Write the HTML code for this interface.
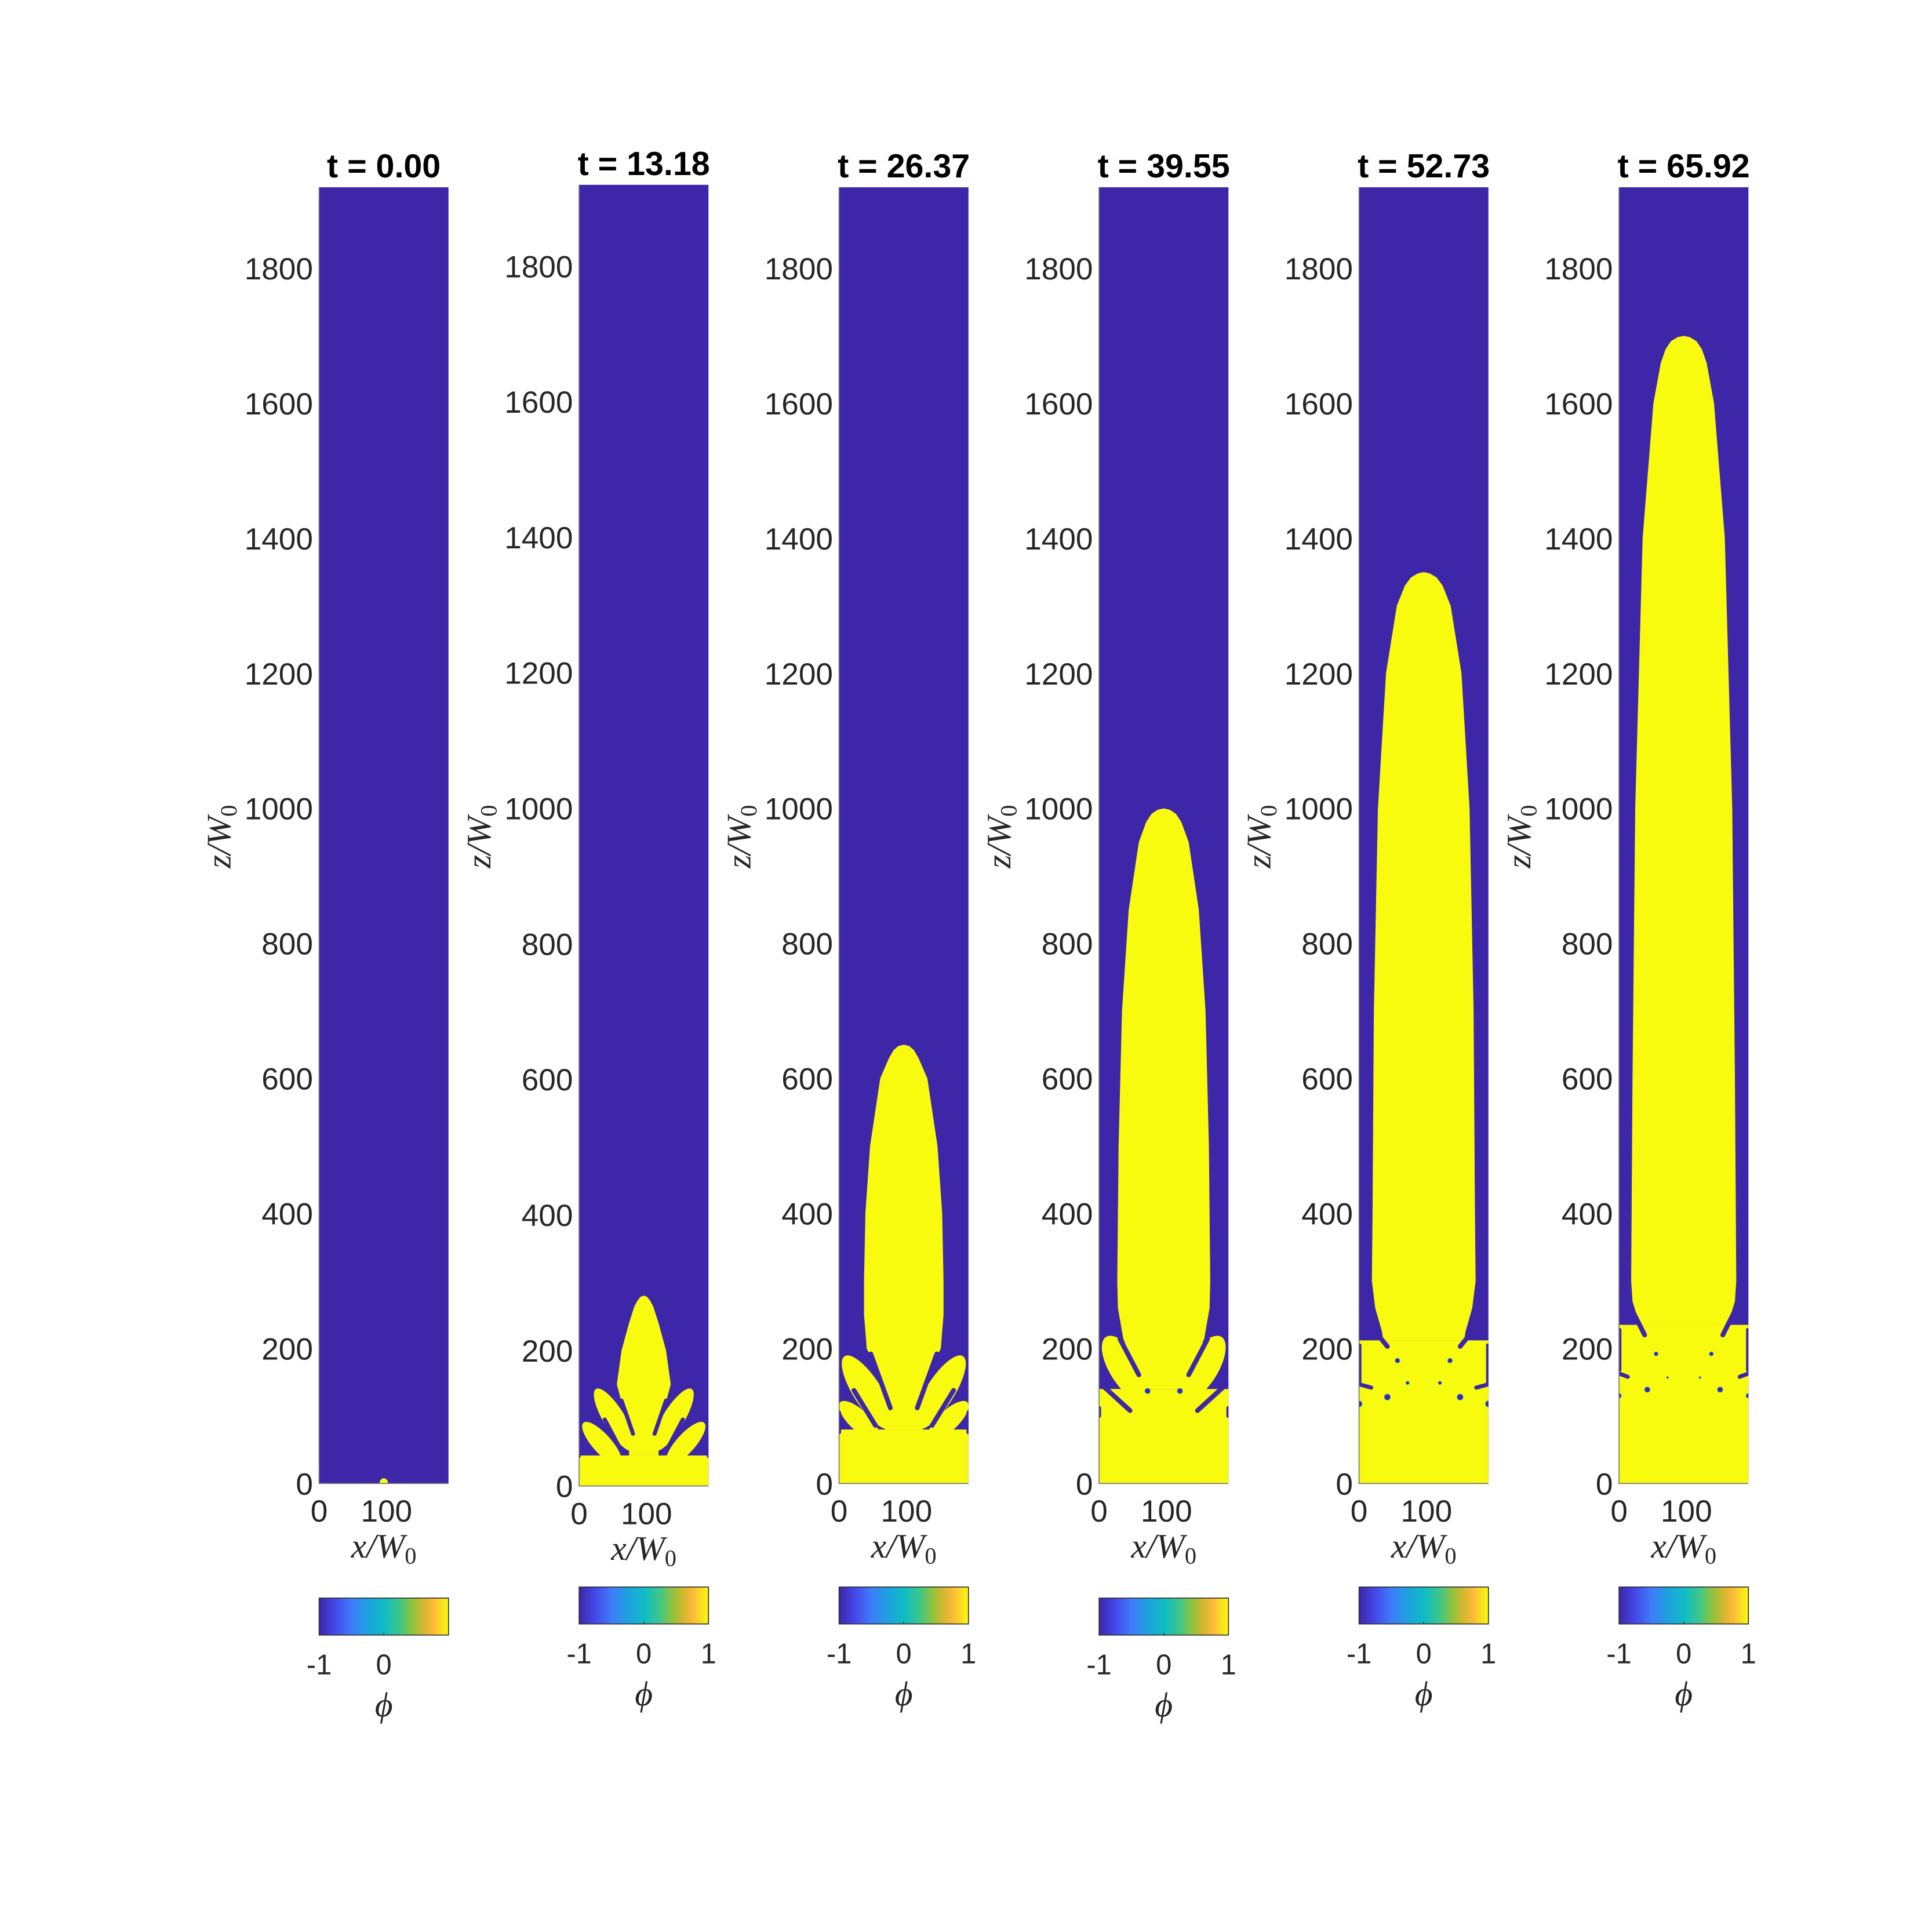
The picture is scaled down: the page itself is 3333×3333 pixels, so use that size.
<!DOCTYPE html>
<html><head><meta charset="utf-8"><style>
html,body{margin:0;padding:0;background:#fff;}
svg{display:block;}
</style></head><body>
<svg id="fig" xmlns="http://www.w3.org/2000/svg" width="3333" height="3333" viewBox="0 0 1568 1568">
<defs>
<linearGradient id="parula" x1="0" y1="0" x2="1" y2="0">
<stop offset="0" stop-color="#3e26a8"/><stop offset="0.12" stop-color="#4446e9"/>
<stop offset="0.25" stop-color="#3e7cfb"/><stop offset="0.37" stop-color="#1f9fe0"/>
<stop offset="0.5" stop-color="#0ebcc6"/><stop offset="0.62" stop-color="#3cc68b"/>
<stop offset="0.72" stop-color="#8ec33f"/><stop offset="0.8" stop-color="#cfb82e"/>
<stop offset="0.88" stop-color="#fcb93a"/><stop offset="1" stop-color="#f9fb0e"/>
</linearGradient>
</defs>
<g id="root"></g>
</svg>
<script>
const times = ["0.00","13.18","26.37","39.55","52.73","65.92"];
const yTicks = [0,200,400,600,800,1000,1200,1400,1600,1800];
const xTicks = [0,100];
const cbTicks = [-1,0,1];
const baseHeights = [0,45,80,140,212,235];
const profZ = [
 [8,7,5,3,0],
 [281,279,274,265,240,200,150,120,90,45],
 [650,648,642,630,600,500,400,300,250,200,170,140,111,80],
 [1000,998,992,980,950,850,700,500,300,260,214,190,163,140],
 [1350,1348,1342,1330,1300,1200,1000,700,400,300,260,225,212],
 [1700,1698,1692,1680,1660,1600,1400,1000,600,300,270,250,235]
];
const profHW = [
 [0,3,5,6,6],
 [0,5,9,14,22,33,40,32,20,22],
 [0,8,15,22,35,50,57,59,59,55,40,28,22,28],
 [0,9,18,26,37,52,62,67,69,68,60,48,44,44],
 [0,9,19,28,40,56,68,74,76,77,72,62,60],
 [0,9,19,27,34,45,61,72,76,78,76,70,66]
];
// lobes: rootX, rootZ, tipX, tipZ, width (left side, mirrored)
const lobes = [
 [],
 [[76,60,30,135,32],[56,38,12,87,28]],
 [[70,92,15,178,42],[52,72,8,114,30]],
 [[62,135,18,205,48],[48,95,8,131,30]],
 [],
 []
];
// purple channels: x1,z1,x2,z2,width
const notches = [
 [],
 [[80,77,63,126,6],[61,55,38,98,6],[0,44,0,75,5]],
 [[76,112,47,192,7],[54,86,22,138,7],[0,76,0,105,6]],
 [[59,161,31,214,7],[46,108,2,148,7],[0,100,0,112,6]],
 [[20,230,42,203,7],[1,150,1,205,5],[0,147,18,142,6]],
 [[22,252,38,220,7],[1,168,1,228,5],[0,163,13,158,6]]
];
// purple droplets: x, z, r
const dots = [
 [],[],[],
 [[72,137,4]],
 [[57,182,3.5],[72,149,2.5],[42,128,4.5],[0,118,4.5]],
 [[55,192,3],[72,157,1.5],[42,139,4],[0,130,3.5]]
];
const panelLeft=[259,470,681,892,1103,1314];
const panelTop=[152,150,152,152,152,152];
const panelBottom=[1204,1206,1204,1204,1204,1204];
const cbTop=[1297,1288,1288,1297,1288,1288];
const PW=105, XMAX=192, ZMAX=1920, PURPLE="#3e26a8", YELLOW="#f9fb0e";
const NS="http://www.w3.org/2000/svg";
const root=document.getElementById('root');
function mk(tag,attrs,parent){const e=document.createElementNS(NS,tag);for(const k in attrs)e.setAttribute(k,attrs[k]);(parent||root).appendChild(e);return e;}
function txt(s,attrs,parent){const e=mk('text',attrs,parent);e.textContent=s;return e;}

for(let p=0;p<6;p++){
  const L=panelLeft[p],T=panelTop[p],B=panelBottom[p];
  const sx=x=>L+x/XMAX*PW;
  const sz=z=>B-z/ZMAX*(B-T);
  const kz=(B-T)/ZMAX, kx=PW/XMAX;
  const g=mk('g',{});
  
  
  const cp=mk('clipPath',{id:'clip'+p},g);
  mk('rect',{x:L,y:T,width:PW,height:B-T},cp);
  const bg=mk('rect',{x:L,y:T,width:PW,height:B-T,fill:PURPLE},g);
  
  
  const field=mk('g',{'clip-path':'url(#clip'+p+')'},g);
  
  
  if(baseHeights[p]>0){
    const br=mk('rect',{x:L,y:sz(baseHeights[p]),width:PW,height:baseHeights[p]*kz+1,fill:YELLOW},field);
    
    
  }
  const zs=profZ[p],hs=profHW[p];
  let pts=[];
  for(let i=zs.length-1;i>=0;i--)pts.push(sx(96-hs[i])+','+sz(zs[i]));
  for(let i=0;i<zs.length;i++)pts.push(sx(96+hs[i])+','+sz(zs[i]));
  const tr=mk('polygon',{points:pts.join(' '),fill:YELLOW,'stroke-linejoin':'round'},field);
  
  
  for(const lb of lobes[p]){
    for(const side of [1,-1]){
      const rx=side>0?lb[0]:XMAX-lb[0], tx=side>0?lb[2]:XMAX-lb[2];
      const x1=sx(rx),y1=sz(lb[1]),x2=sx(tx),y2=sz(lb[3]);
      const cx=(x1+x2)/2,cy=(y1+y2)/2,len=Math.hypot(x2-x1,y2-y1);
      const ang=Math.atan2(y2-y1,x2-x1)*180/Math.PI;
      const el=mk('ellipse',{cx:cx,cy:cy,rx:len/2+lb[4]*kx*0.3,ry:lb[4]*kx/2,transform:`rotate(${ang} ${cx} ${cy})`,fill:YELLOW},field);
      
      
    }
  }
  for(const n of notches[p]){
    for(const side of [1,-1]){
      const a=side>0?n[0]:XMAX-n[0], b=side>0?n[2]:XMAX-n[2];
      const ln=mk('line',{x1:sx(a),y1:sz(n[1]),x2:sx(b),y2:sz(n[3]),stroke:PURPLE,'stroke-width':n[4]*kx,'stroke-linecap':'round'},field);
      
      
    }
  }
  for(const d of dots[p]){
    for(const side of [1,-1]){
      const a=side>0?d[0]:XMAX-d[0];
      const c=mk('circle',{cx:sx(a),cy:sz(d[1]),r:d[2]*kx,fill:PURPLE,stroke:'#2fa0e0','stroke-width':0.4},field);
      
      
    }
  }
  const ax=mk('path',{d:`M${L},${T} L${L},${B} L${L+PW},${B}`,fill:'none',stroke:'#777','stroke-width':0.8},g);
  
  
  const ti=txt('t = '+times[p],{x:L+PW/2,y:T-8,'text-anchor':'middle','font-family':'Liberation Sans, sans-serif','font-weight':'bold','font-size':27,fill:'#000'},g);
  
  
  for(const t of yTicks){
    const e=txt(String(t),{x:L-5,y:sz(t)+9,'text-anchor':'end','font-family':'Liberation Sans, sans-serif','font-size':25,fill:'#262626'},g);
    
    
  }
  for(const t of xTicks){
    const e=txt(String(t),{x:sx(t),y:B+31,'text-anchor':'middle','font-family':'Liberation Sans, sans-serif','font-size':25,fill:'#262626'},g);
    
    
  }
  const xl=txt('',{x:L+PW/2,y:B+60,'text-anchor':'middle','font-family':'Liberation Serif, serif','font-style':'italic','font-size':28,fill:'#262626'},g);
  xl.innerHTML='x/W<tspan font-style="normal" font-size="19" dy="5">0</tspan>';
  
  
  const ycx=L-72, ycy=(T+B)/2+1;
  const yl=txt('',{x:ycx,y:ycy,'text-anchor':'middle','font-family':'Liberation Serif, serif','font-style':'italic','font-size':28,fill:'#262626',transform:`rotate(-90 ${ycx} ${ycy})`},g);
  yl.innerHTML='z/W<tspan font-style="normal" font-size="19" dy="5">0</tspan>';
  
  
  const CT=cbTop[p],CH=30;
  const cb=mk('rect',{x:L,y:CT,width:PW,height:CH,fill:'url(#parula)',stroke:'#333','stroke-width':0.8},g);
  
  
  const cx=v=>L+(v+1)/2*PW;
  for(const v of cbTicks){
    if(p===0 && v===1) continue;
    mk('line',{x1:cx(v),y1:CT+CH,x2:cx(v),y2:CT+CH-2,stroke:'#333','stroke-width':0.6},g);
    const e=txt(String(v),{x:cx(v),y:CT+CH+32,'text-anchor':'middle','font-family':'Liberation Sans, sans-serif','font-size':23,fill:'#262626'},g);
    
    
  }
  const ph=txt('\u03D5',{x:L+PW/2,y:CT+CH+66,'text-anchor':'middle','font-family':'Liberation Serif, DejaVu Serif, serif','font-style':'italic','font-size':28,fill:'#262626'},g);
  
  
}
</script>
</body></html>
